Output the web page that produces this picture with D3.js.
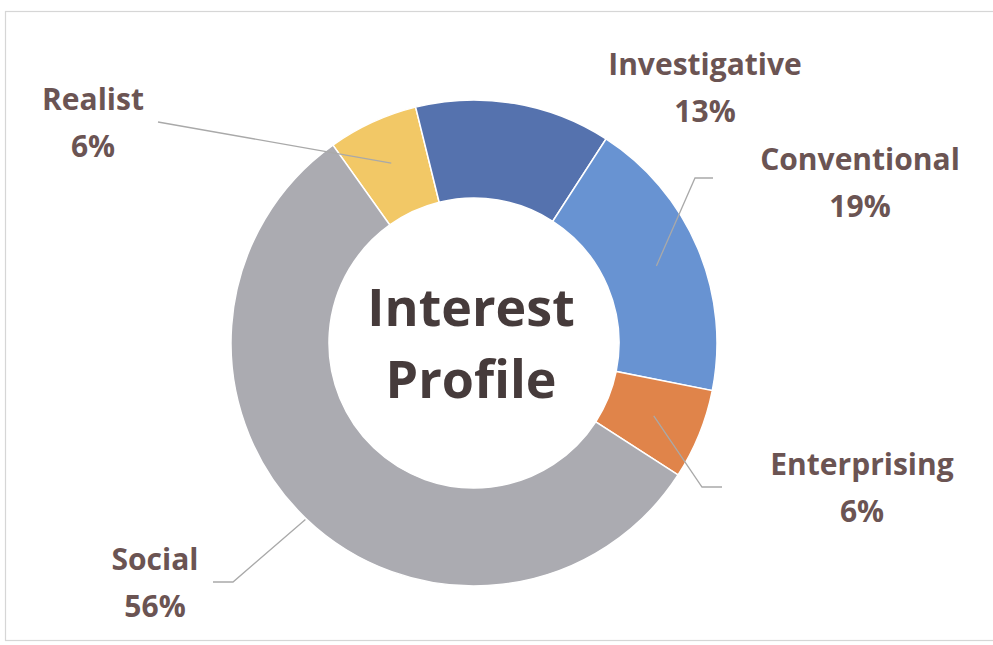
<!DOCTYPE html>
<html>
<head>
<meta charset="utf-8">
<script src="https://cdn.jsdelivr.net/npm/d3@7/dist/d3.min.js"></script>
<style>
  html, body { margin: 0; padding: 0; background: #ffffff; }
  svg { display: block; }
</style>
</head>
<body>
<svg id="chart" width="993" height="645"></svg>
<script>
// ---- data ----
const categories = ["Realist", "Investigative", "Conventional", "Enterprising", "Social"];
const values = [6, 13, 19, 6, 56];
const percentLabels = ["6%", "13%", "19%", "6%", "56%"];
const centerTitle = ["Interest", "Profile"];

// ---- layout / style (not data) ----
const W = 993, H = 645;
const cx = 474, cy = 343;
const outerR = 243, innerR = 145;
const startDeg = -35.5;
const colors = ["#F2C866", "#5572AE", "#6893D2", "#E0844A", "#ABABB1"];
const labelPos = [
  {x: 93,  y: 110, leader: [[158, 122]]},
  {x: 705, y: 75,  leader: null},
  {x: 860, y: 170, leader: [[713, 178], [695, 178]]},
  {x: 862, y: 475, leader: [[722, 487], [702, 487]]},
  {x: 155, y: 570, leader: [[213, 582], [233, 582]]}
];
const leaderR = [198, 198, 198, 194, 244];

const svg = d3.select("#chart");

// frame
svg.append("rect")
  .attr("x", 5.5).attr("y", 11.5)
  .attr("width", W + 10).attr("height", 629)
  .attr("fill", "none").attr("stroke", "#d6d6d6").attr("stroke-width", 1.2);

const toRad = d => d * Math.PI / 180;
const pie = d3.pie().sort(null).value(d => d)
  .startAngle(toRad(startDeg)).endAngle(toRad(startDeg + 360));
const arcs = pie(values);
const arc = d3.arc().innerRadius(innerR).outerRadius(outerR);

const g = svg.append("g").attr("transform", `translate(${cx},${cy})`);
g.selectAll("path.slice").data(arcs).enter().append("path")
  .attr("class", "slice")
  .attr("d", arc)
  .attr("fill", (d, i) => colors[i])
  .attr("stroke", "#ffffff").attr("stroke-width", 1.5);

// leader lines
arcs.forEach((a, i) => {
  const lp = labelPos[i];
  if (!lp.leader) return;
  const mid = (a.startAngle + a.endAngle) / 2;
  const ex = cx + leaderR[i] * Math.sin(mid);
  const ey = cy - leaderR[i] * Math.cos(mid);
  const pts = lp.leader.concat([[ex, ey]]);
  svg.append("path")
    .attr("d", d3.line()(pts))
    .attr("fill", "none")
    .attr("stroke", "#a9a9a9")
    .attr("stroke-width", 1.3);
});

// labels
const fontFam = "'Open Sans', 'DejaVu Sans', sans-serif";
categories.forEach((c, i) => {
  const lp = labelPos[i];
  const t = svg.append("text")
    .attr("text-anchor", "middle")
    .attr("font-family", fontFam)
    .attr("font-weight", 700)
    .attr("font-size", 30)
    .attr("fill", "#6b5453");
  t.append("tspan").attr("x", lp.x).attr("y", lp.y).text(c);
  t.append("tspan").attr("x", lp.x).attr("y", lp.y + 47).text(percentLabels[i]);
});

// center title
const ct = svg.append("text")
  .attr("text-anchor", "middle")
  .attr("font-family", fontFam)
  .attr("font-weight", 700)
  .attr("font-size", 52)
  .attr("fill", "#463b3b");
ct.append("tspan").attr("x", cx - 3).attr("y", 326).text(centerTitle[0]);
ct.append("tspan").attr("x", cx - 3).attr("y", 398).text(centerTitle[1]);
</script>
</body>
</html>
